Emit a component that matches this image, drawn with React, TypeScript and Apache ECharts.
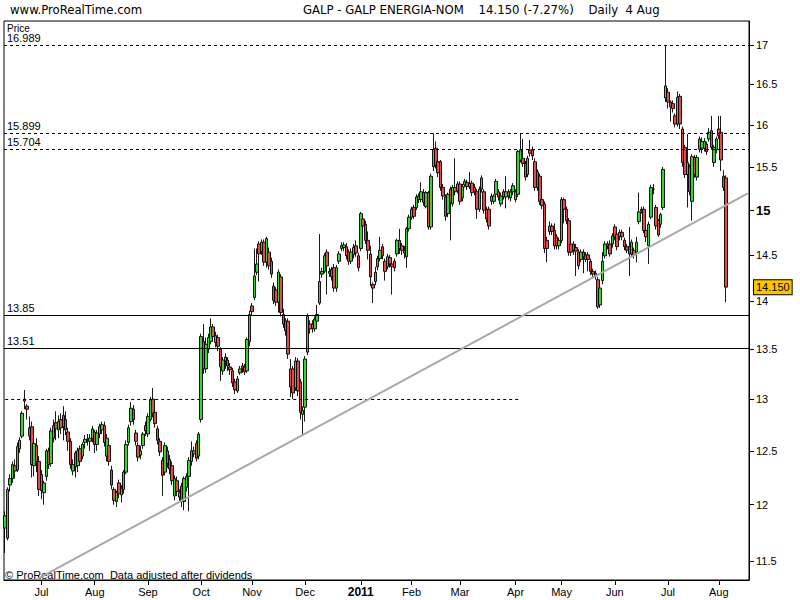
import React, { useEffect, useRef } from 'react';
import * as echarts from 'echarts';

// ---------- data ----------
const startDate = '2010-06-10';
const closedDays = ['2011-04-22', '2011-04-25'];
const futureSlots = 9;
const monthNames = ['Jan', 'Feb', 'Mar', 'Apr', 'May', 'Jun', 'Jul', 'Aug', 'Sep', 'Oct', 'Nov', 'Dec'];

// [open, close, low, high]
const candles: number[][] = [
  [11.79, 11.90, 11.57, 11.94], [11.70, 12.14, 11.68, 12.16], [12.18, 12.24, 12.12, 12.28], [12.24, 12.37, 12.20, 12.40], [12.36, 12.31, 12.24, 12.42],
  [12.32, 12.54, 12.30, 12.58], [12.52, 12.60, 12.48, 12.63], [12.64, 12.86, 12.62, 12.88], [13.00, 12.98, 12.90, 13.09], [12.93, 12.90, 12.80, 12.95],
  [12.72, 12.64, 12.60, 12.83], [12.73, 12.37, 12.25, 12.78], [12.36, 12.57, 12.26, 12.60], [12.55, 12.40, 12.30, 12.62], [12.40, 12.14, 12.08, 12.45],
  [12.28, 12.13, 12.05, 12.32], [12.11, 12.20, 12.00, 12.22], [12.26, 12.50, 12.22, 12.52], [12.50, 12.37, 12.33, 12.53], [12.38, 12.69, 12.35, 12.72],
  [12.62, 12.74, 12.58, 12.80], [12.77, 12.71, 12.60, 12.88], [12.70, 12.78, 12.62, 12.84], [12.80, 12.72, 12.66, 12.86], [12.84, 12.73, 12.60, 12.93],
  [12.80, 12.70, 12.65, 12.88], [12.68, 12.59, 12.50, 12.72], [12.59, 12.37, 12.33, 12.62], [12.31, 12.37, 12.27, 12.42], [12.48, 12.35, 12.25, 12.50],
  [12.36, 12.50, 12.30, 12.53], [12.52, 12.40, 12.36, 12.55], [12.45, 12.56, 12.42, 12.58], [12.58, 12.61, 12.52, 12.65], [12.60, 12.61, 12.55, 12.66],
  [12.59, 12.62, 12.50, 12.66], [12.62, 12.71, 12.58, 12.74], [12.68, 12.56, 12.48, 12.70], [12.56, 12.67, 12.50, 12.70], [12.66, 12.73, 12.62, 12.76],
  [12.70, 12.75, 12.66, 12.78], [12.74, 12.58, 12.54, 12.78], [12.45, 12.62, 12.40, 12.66], [12.55, 12.40, 12.36, 12.57], [12.32, 12.18, 12.14, 12.36],
  [12.14, 12.04, 12.00, 12.16], [12.03, 12.11, 11.98, 12.13], [12.20, 12.10, 12.06, 12.23], [12.09, 12.15, 12.02, 12.18], [12.14, 12.30, 12.10, 12.32],
  [12.30, 12.56, 12.28, 12.60], [12.58, 12.72, 12.55, 12.75], [12.78, 12.91, 12.74, 12.97], [12.90, 12.80, 12.75, 12.94], [12.67, 12.59, 12.55, 12.70],
  [12.55, 12.44, 12.40, 12.58], [12.46, 12.50, 12.42, 12.55], [12.55, 12.66, 12.52, 12.68], [12.74, 12.69, 12.64, 12.78], [12.66, 12.83, 12.63, 12.86],
  [12.80, 12.99, 12.78, 13.02], [13.00, 12.86, 12.82, 13.11], [12.87, 12.76, 12.72, 12.90], [12.71, 12.60, 12.56, 12.74], [12.59, 12.49, 12.45, 12.62],
  [12.41, 12.27, 12.08, 12.44], [12.30, 12.55, 12.27, 12.58], [12.50, 12.38, 12.34, 12.54], [12.42, 12.33, 12.28, 12.46], [12.36, 12.22, 12.18, 12.40],
  [12.08, 12.24, 12.04, 12.27], [12.22, 12.12, 12.08, 12.26], [12.07, 12.11, 12.03, 12.14], [12.17, 12.03, 11.98, 12.20], [12.03, 12.24, 11.95, 12.26],
  [12.16, 12.26, 12.12, 12.29], [12.26, 12.41, 11.94, 12.44], [12.40, 12.50, 12.36, 12.59], [12.47, 12.50, 12.44, 12.54], [12.57, 12.43, 12.40, 12.60],
  [12.45, 12.66, 12.42, 12.68], [12.80, 13.63, 12.77, 13.66], [13.58, 13.30, 13.25, 13.76], [13.30, 13.55, 13.26, 13.62], [13.50, 13.62, 13.46, 13.66],
  [13.58, 13.73, 13.55, 13.82], [13.73, 13.63, 13.58, 13.76], [13.57, 13.64, 13.52, 13.68], [13.62, 13.53, 13.48, 13.65], [13.50, 13.32, 13.18, 13.52],
  [13.28, 13.39, 13.24, 13.42], [13.38, 13.42, 13.30, 13.46], [13.39, 13.33, 13.28, 13.42], [13.32, 13.29, 13.24, 13.36], [13.28, 13.16, 13.12, 13.31],
  [13.17, 13.09, 13.05, 13.20], [13.08, 13.20, 13.06, 13.23], [13.26, 13.30, 13.24, 13.33], [13.33, 13.30, 13.26, 13.36], [13.32, 13.27, 13.24, 13.35],
  [13.28, 13.60, 13.26, 13.62], [13.58, 13.86, 13.53, 13.90], [13.95, 13.89, 13.85, 13.98], [14.04, 14.27, 14.01, 14.57], [14.31, 14.40, 14.28, 14.57],
  [14.62, 14.51, 14.21, 14.65], [14.54, 14.64, 14.50, 14.67], [14.64, 14.42, 14.38, 14.67], [14.42, 14.68, 14.36, 14.70], [14.53, 14.38, 14.34, 14.58],
  [14.43, 14.29, 14.25, 14.47], [14.16, 14.01, 13.97, 14.20], [14.12, 13.99, 13.95, 14.15], [13.99, 14.31, 13.88, 14.34], [14.26, 13.88, 13.84, 14.29],
  [13.86, 13.76, 13.72, 13.92], [13.79, 13.69, 13.64, 13.82], [13.79, 13.45, 13.40, 13.82], [13.30, 13.12, 13.02, 13.40], [13.30, 13.06, 13.00, 13.33],
  [13.11, 13.38, 13.08, 13.42], [13.38, 13.08, 13.03, 13.41], [13.17, 12.87, 12.80, 13.20], [12.85, 12.89, 12.66, 12.93], [12.92, 13.40, 12.78, 13.43],
  [13.47, 13.84, 13.44, 13.87], [13.76, 13.71, 13.66, 13.80], [13.76, 13.71, 13.67, 13.80], [13.71, 13.81, 13.68, 13.84], [13.79, 13.86, 13.75, 13.96],
  [13.98, 14.21, 13.96, 14.73], [14.29, 14.32, 14.25, 14.36], [14.32, 14.49, 14.30, 14.52], [14.53, 14.38, 14.07, 14.56], [14.30, 14.32, 14.26, 14.36],
  [14.34, 14.26, 14.22, 14.37], [14.36, 14.14, 14.10, 14.40], [14.14, 14.36, 14.10, 14.39], [14.43, 14.51, 14.40, 14.54], [14.57, 14.60, 14.54, 14.64],
  [14.58, 14.61, 14.54, 14.64], [14.59, 14.49, 14.45, 14.63], [14.53, 14.43, 14.39, 14.56], [14.43, 14.53, 14.40, 14.57], [14.50, 14.58, 14.46, 14.62],
  [14.60, 14.52, 14.48, 14.66], [14.49, 14.36, 14.32, 14.52], [14.57, 14.96, 14.54, 14.98], [14.90, 14.82, 14.78, 14.93], [14.84, 14.66, 14.62, 14.88],
  [14.66, 14.55, 14.45, 14.76], [14.51, 14.26, 14.16, 14.60], [14.18, 14.14, 13.98, 14.20], [14.21, 14.31, 14.17, 14.37], [14.37, 14.46, 14.33, 14.49],
  [14.46, 14.55, 14.43, 14.70], [14.59, 14.49, 14.45, 14.62], [14.43, 14.32, 14.22, 14.46], [14.37, 14.48, 14.34, 14.51], [14.47, 14.40, 14.36, 14.50],
  [14.40, 14.37, 14.07, 14.42], [14.43, 14.36, 14.32, 14.46], [14.51, 14.66, 14.48, 14.68], [14.66, 14.57, 14.51, 14.79], [14.60, 14.55, 14.50, 14.63],
  [14.55, 14.52, 14.46, 14.60], [14.48, 14.79, 14.36, 14.81], [14.79, 14.92, 14.76, 14.95], [14.92, 15.01, 14.89, 15.04], [15.03, 14.93, 14.90, 15.06],
  [15.03, 15.15, 15.00, 15.18], [15.16, 15.12, 15.08, 15.19], [15.12, 15.21, 15.09, 15.32], [15.20, 15.09, 15.05, 15.24], [15.04, 15.20, 15.02, 15.22],
  [15.20, 14.81, 14.78, 15.22], [14.81, 15.39, 14.78, 15.42], [15.50, 15.704, 15.45, 15.899], [15.72, 15.52, 15.48, 15.80], [15.56, 15.43, 15.38, 15.60],
  [15.56, 15.26, 15.22, 15.58], [15.26, 15.16, 15.12, 15.30], [15.15, 14.93, 14.88, 15.18], [14.96, 15.18, 14.92, 15.20], [15.24, 15.09, 14.66, 15.27],
  [15.07, 15.26, 15.04, 15.29], [15.26, 15.21, 15.17, 15.60], [15.22, 15.30, 15.19, 15.33], [15.30, 15.10, 15.06, 15.33], [15.14, 15.27, 15.10, 15.30],
  [15.29, 15.33, 15.26, 15.36], [15.32, 15.27, 15.23, 15.35], [15.27, 15.30, 15.24, 15.44], [15.31, 15.20, 15.16, 15.34], [15.26, 15.21, 15.17, 15.30],
  [15.21, 15.01, 14.90, 15.24], [15.01, 15.24, 14.98, 15.27], [15.24, 15.37, 15.20, 15.40], [15.21, 15.00, 14.96, 15.24], [15.01, 14.90, 14.86, 15.04],
  [15.01, 14.82, 14.78, 15.04], [15.10, 15.16, 15.06, 15.19], [15.10, 15.16, 15.07, 15.18], [15.18, 15.33, 15.15, 15.36], [15.21, 15.15, 15.11, 15.24],
  [15.07, 15.16, 15.04, 15.20], [15.21, 15.15, 15.12, 15.24], [15.15, 15.21, 15.02, 15.39], [15.21, 15.16, 15.12, 15.24], [15.14, 15.21, 15.10, 15.24],
  [15.21, 15.28, 15.17, 15.31], [15.12, 15.21, 15.09, 15.24], [15.18, 15.68, 15.15, 15.70], [15.58, 15.70, 15.55, 15.899], [15.60, 15.54, 15.50, 15.83],
  [15.54, 15.38, 15.34, 15.57], [15.41, 15.60, 15.38, 15.63], [15.70, 15.66, 15.62, 15.82], [15.70, 15.63, 15.58, 15.74], [15.56, 15.26, 15.22, 15.60],
  [15.44, 15.26, 15.22, 15.47], [15.39, 15.10, 15.06, 15.42], [15.12, 15.05, 15.01, 15.15], [15.07, 14.57, 14.52, 15.10], [14.66, 14.57, 14.42, 14.70],
  [14.76, 14.82, 14.72, 14.87], [14.82, 14.76, 14.72, 14.85], [14.77, 14.60, 14.56, 14.85], [14.70, 14.60, 14.56, 14.73], [14.60, 14.66, 14.56, 14.69],
  [14.66, 15.12, 14.63, 15.15], [15.12, 15.01, 14.85, 15.14], [15.01, 14.88, 14.84, 15.04], [14.88, 14.53, 14.49, 14.91], [14.62, 14.53, 14.49, 14.65],
  [14.62, 14.55, 14.50, 14.65], [14.58, 14.54, 14.27, 14.62], [14.53, 14.38, 14.34, 14.56], [14.45, 14.53, 14.42, 14.56], [14.53, 14.48, 14.30, 14.56],
  [14.45, 14.50, 14.42, 14.53], [14.50, 14.45, 14.32, 14.53], [14.43, 14.32, 14.28, 14.46], [14.32, 14.29, 14.25, 14.35], [14.30, 14.27, 14.23, 14.33],
  [14.23, 13.94, 13.92, 14.26], [13.96, 14.14, 13.93, 14.20], [14.22, 14.43, 14.18, 14.53], [14.49, 14.62, 14.46, 14.65], [14.60, 14.62, 14.56, 14.65],
  [14.62, 14.51, 14.48, 14.66], [14.62, 14.71, 14.58, 14.74], [14.81, 14.70, 14.66, 14.84], [14.73, 14.59, 14.55, 14.76], [14.70, 14.75, 14.66, 14.78],
  [14.75, 14.70, 14.66, 14.78], [14.66, 14.59, 14.55, 14.69], [14.59, 14.55, 14.52, 14.62], [14.59, 14.51, 14.27, 14.81], [14.51, 14.64, 14.48, 14.67],
  [14.55, 14.50, 14.46, 14.58], [14.53, 14.64, 14.42, 14.70], [14.87, 14.98, 14.84, 15.20], [15.01, 14.99, 14.96, 15.04], [15.01, 14.77, 14.74, 15.04],
  [14.77, 14.70, 14.64, 14.79], [14.60, 14.84, 14.40, 14.87], [14.92, 15.26, 14.90, 15.29], [15.24, 15.24, 15.18, 15.30], [15.03, 14.82, 14.78, 15.06],
  [14.88, 14.72, 14.70, 14.90], [14.84, 14.95, 14.80, 14.97], [15.03, 15.47, 15.00, 15.50], [16.33, 16.48, 16.28, 16.989], [16.40, 16.28, 16.20, 16.45],
  [16.28, 16.22, 16.04, 16.30], [16.26, 16.20, 16.15, 16.30], [16.11, 16.01, 15.97, 16.14], [16.01, 16.34, 15.98, 16.41], [16.35, 16.01, 15.95, 16.38],
  [15.95, 15.55, 15.50, 15.98], [15.73, 15.41, 15.37, 15.76], [15.41, 15.55, 15.03, 15.89], [15.50, 15.21, 15.17, 15.53], [15.10, 15.62, 14.88, 15.65],
  [15.61, 15.41, 15.37, 15.64], [15.38, 15.61, 15.34, 15.64], [15.71, 15.83, 15.67, 15.86], [15.72, 15.80, 15.66, 15.85], [15.72, 15.80, 15.68, 15.84],
  [15.77, 15.68, 15.64, 15.80], [15.83, 15.91, 15.80, 15.96], [15.93, 15.73, 15.70, 16.11], [15.55, 15.73, 15.50, 15.76], [15.70, 15.83, 15.66, 15.86],
  [15.95, 15.87, 15.83, 16.11], [15.91, 15.58, 15.45, 16.11], [15.39, 15.26, 15.22, 15.46], [15.37, 14.15, 13.99, 15.40],
];

const yTicks = [11.5, 12, 12.5, 13, 13.5, 14, 14.5, 15, 15.5, 16, 16.5, 17];
const boldTick = 15;
const yRange = [11.335, 17.31];
const dashedLevels = [16.989, 15.899, 15.704];
const solidLevels = [13.85, 13.51];
const partialLevel = { price: 13.0, fromIndex: 0, toIndex: 213 };
const trendAnchors = [
  { index: 13, price: 11.34 },
  { index: 307, price: 15.19 },
];
const lastPrice = 14.15;
const titleText = 'GALP - GALP ENERGIA-NOM    14.150 (-7.27%)    Daily  4 Aug';

function buildDates(start: string, count: number, closed: string[]): string[] {
  const out: string[] = [];
  const d = new Date(start + 'T00:00:00Z');
  while (out.length < count) {
    const day = d.getUTCDay();
    const iso = d.toISOString().slice(0, 10);
    if (day !== 0 && day !== 6 && !closed.includes(iso)) out.push(iso);
    d.setUTCDate(d.getUTCDate() + 1);
  }
  return out;
}

const categories = buildDates(startDate, candles.length + futureSlots, closedDays);

const FONT = '"Liberation Sans", Arial, sans-serif';
const NARROW = '"Liberation Sans Narrow", "Arial Narrow", "DejaVu Sans Condensed", sans-serif';

export default function App() {
  const ref = useRef<HTMLDivElement>(null);

  useEffect(() => {
    if (!ref.current) return;
    const chart = echarts.init(ref.current, undefined, { renderer: 'svg' });
    const ln = Math.log;
    const isMonthStart = (i: number) =>
      i > 0 && i < categories.length && categories[i].slice(0, 7) !== categories[i - 1].slice(0, 7);

    const dashed = { type: [3, 3] as any, color: '#000', width: 1 };
    const solid = { type: 'solid' as any, color: '#000', width: 1 };
    const levelLabel = (text: string) => ({
      show: true,
      position: 'insideStartTop' as any,
      formatter: text,
      color: '#000',
      fontSize: 11,
      fontFamily: FONT,
      distance: [3, 2],
    });

    const markData: any[] = [
      ...dashedLevels.map((v) => ({ yAxis: ln(v), lineStyle: dashed, label: levelLabel(String(v)) })),
      ...solidLevels.map((v) => ({ yAxis: ln(v), lineStyle: solid, label: levelLabel(String(v)) })),
      [
        { coord: [categories[partialLevel.fromIndex], ln(partialLevel.price)], lineStyle: dashed, label: { show: false } },
        { coord: [categories[partialLevel.toIndex], ln(partialLevel.price)] },
      ],
      [
        {
          coord: [categories[trendAnchors[0].index], ln(trendAnchors[0].price)],
          lineStyle: { type: 'solid', color: '#a8a8a8', width: 2 },
          label: { show: false },
        },
        { coord: [categories[trendAnchors[1].index], ln(trendAnchors[1].price)] },
      ],
      {
        yAxis: ln(lastPrice),
        lineStyle: { color: 'rgba(0,0,0,0)', width: 0 },
        label: {
          show: true,
          position: 'end',
          formatter: lastPrice.toFixed(3),
          color: '#000',
          fontSize: 11,
          fontFamily: FONT,
          backgroundColor: '#ffc400',
          borderColor: '#000',
          borderWidth: 1,
          padding: [2, 2, 1, 2],
          distance: 5,
        },
      },
    ];

    chart.setOption({
      animation: false,
      backgroundColor: '#fff',
      grid: {
        left: 4,
        right: 51,
        top: 21,
        bottom: 20,
        containLabel: false,
        outerBoundsMode: 'none',
        show: true,
        borderColor: '#000',
        borderWidth: 1,
      } as any,
      xAxis: {
        type: 'category',
        data: categories,
        boundaryGap: true,
        axisLine: { show: true, lineStyle: { color: '#000', width: 1 } },
        axisTick: {
          show: true,
          alignWithLabel: true,
          length: 5,
          interval: (i: number) => isMonthStart(i),
          lineStyle: { color: '#000' },
        },
        axisLabel: {
          show: true,
          interval: (i: number) => isMonthStart(i),
          margin: 6,
          color: '#000',
          fontSize: 11,
          fontFamily: FONT,
          formatter: (value: string) => {
            const m = +value.slice(5, 7);
            return m === 1 ? `{yr|${value.slice(0, 4)}}` : monthNames[m - 1];
          },
          rich: {
            yr: { fontWeight: 'bold', fontSize: 12, fontFamily: FONT, color: '#000' },
          },
        },
        splitLine: { show: false },
      },
      yAxis: {
        type: 'value',
        position: 'right',
        min: ln(yRange[0]),
        max: ln(yRange[1]),
        scale: true,
        axisLine: { show: true, lineStyle: { color: '#000', width: 1 } },
        axisTick: {
          show: true,
          length: 5,
          customValues: yTicks.map(ln),
          lineStyle: { color: '#000' },
        },
        axisLabel: {
          show: true,
          customValues: yTicks.map(ln),
          margin: 7,
          color: '#000',
          fontSize: 11,
          fontFamily: FONT,
          formatter: (v: number) => {
            const p = Math.round(Math.exp(v) * 10) / 10;
            return p === boldTick ? `{b|${p}}` : String(p);
          },
          rich: {
            b: { fontWeight: 'bold', fontSize: 13, fontFamily: FONT, color: '#000' },
          },
        },
        splitLine: { show: false },
      } as any,
      series: [
        {
          type: 'candlestick',
          data: candles.map((c) => c.map(ln)),
          barWidth: 3,
          itemStyle: {
            color: '#33d633',
            color0: '#e34a4a',
            borderColor: '#000',
            borderColor0: '#000',
            borderWidth: 0.9,
          },
          markLine: {
            silent: true,
            symbol: ['none', 'none'],
            animation: false,
            precision: 8,
            label: { show: false },
            data: markData,
          },
        },
      ],
      graphic: [
        {
          type: 'text',
          left: 10,
          top: 3,
          style: { text: 'www.ProRealTime.com', font: `13px ${NARROW}`, fill: '#000' },
        },
        {
          type: 'text',
          left: 303,
          top: 3,
          style: { text: titleText, font: `13px ${NARROW}`, fill: '#000' },
        },
        {
          type: 'text',
          left: 7,
          top: 23,
          style: { text: 'Price', font: `10px ${FONT}`, fill: '#000' },
        },
        {
          type: 'text',
          left: 5,
          top: 569,
          style: { text: '© ProRealTime.com  Data adjusted after dividends', font: `11px ${FONT}`, fill: '#000' },
        },
      ],
    });

    return () => chart.dispose();
  }, []);

  return (
    <div
      ref={ref}
      style={{ position: 'fixed', left: 0, top: 0, width: 800, height: 600, background: '#fff' }}
    />
  );
}
